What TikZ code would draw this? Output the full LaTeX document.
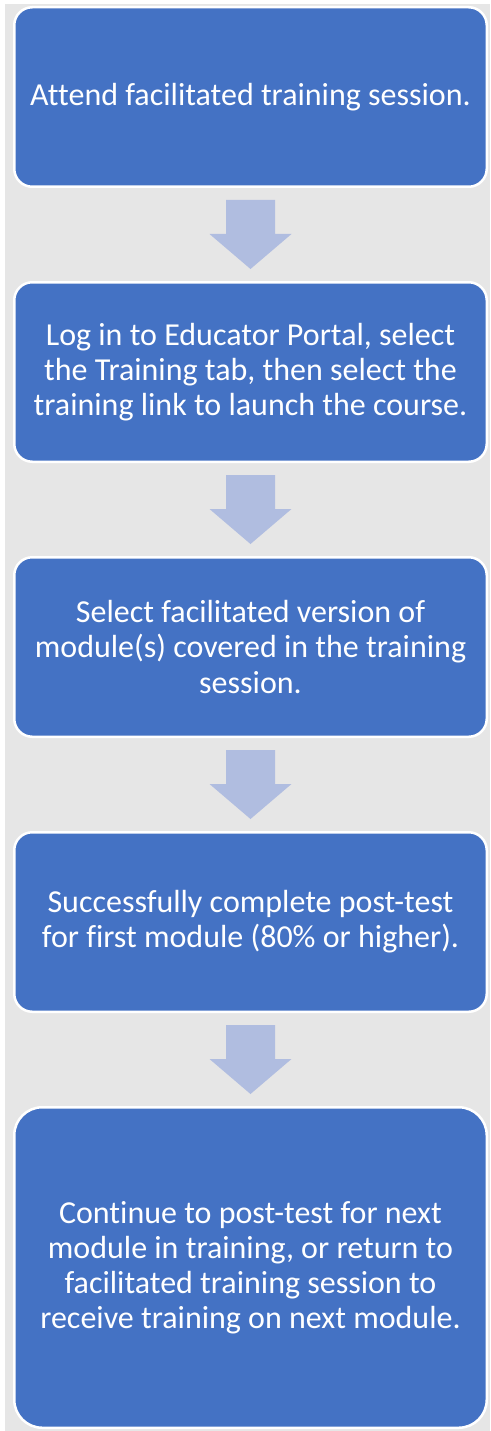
\documentclass[tikz,border=0pt]{standalone}
\usepackage{fontspec}
\setmainfont{Carlito}[Ligatures=NoCommon]
\usepackage{tikz}
\usetikzlibrary{calc}
\usetikzlibrary{positioning}
\definecolor{clbox}{HTML}{4472C4}
\definecolor{clarrow}{HTML}{B0BDE0}
\definecolor{clshade}{HTML}{E6E6E6}
\tikzstyle{stepbox} = [rectangle, rounded corners=18pt, draw=white, line width=2.5pt, fill=clbox, text=white, align=center, minimum width=472.5pt, minimum height=179.5pt, font=\fontsize{32}{35.1}\selectfont]
\tikzstyle{bigstepbox} = [stepbox, minimum height=320.5pt, rounded corners=28pt]
\tikzstyle{flow} = [fill=clarrow]
\newcommand{\flowarrow}[1]{%
  \fill [flow] ($(#1.south)+(-24.5pt,-12pt)$) -- ++(49pt,0) -- ++(0,-34pt) -- ++(16.5pt,0)
    -- ++(-41pt,-35pt) -- ++(-41pt,35pt) -- ++(16.5pt,0) -- cycle;}

\begin{document}
\begin{tikzpicture}[node distance=93pt, x=1pt, y=1pt]
    \useasboundingbox (0,0) rectangle (490,-1431);
    \fill [clshade] (5,-4) rectangle (490,-1431);

    \node [stepbox] (attend) at (250.5,-97) {Attend facilitated training session.};
    \node [stepbox, below=of attend] (login) {Log in to Educator Portal, select\\the Training tab, then select the\\training link to launch the course.};
    \node [stepbox, below=of login] (select) {Select facilitated version of\\module(s) covered in the training\\session.};
    \node [stepbox, below=of select] (posttest) {Successfully complete post-test\\for first module (80\% or higher).};
    \node [bigstepbox, below=of posttest] (continue) {Continue to post-test for next\\module in training, or return to\\facilitated training session to\\receive training on next module.};

    \flowarrow{attend}
    \flowarrow{login}
    \flowarrow{select}
    \flowarrow{posttest}
\end{tikzpicture}
\end{document}
